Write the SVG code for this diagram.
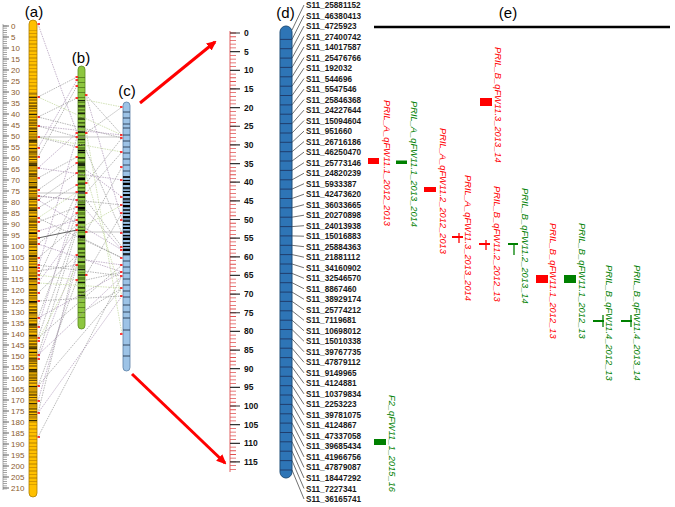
<svg xmlns="http://www.w3.org/2000/svg" width="675" height="507" viewBox="0 0 675 507">
<style>
.pl{font-family:"Liberation Sans",Arial,sans-serif;font-size:15px;fill:#000}
.ra{font-family:"Liberation Sans",Arial,sans-serif;font-size:8px;fill:#8B5A2B}
.rb{font-family:"Liberation Sans",Arial,sans-serif;font-size:8.5px;font-weight:bold;fill:#111}
.mk{font-family:"Liberation Sans",Arial,sans-serif;font-size:8.2px;font-weight:bold;fill:#1a1a1a}
.q{font-family:"Liberation Sans",Arial,sans-serif;font-size:9.3px;font-style:italic}
.qr{fill:#FF0000}.qg{fill:#008000}
.lr{stroke:#FF0000;stroke-width:1.3}.lg{stroke:#008000;stroke-width:1.3}
.dot{fill:none;stroke-width:0.65;stroke-dasharray:1.5 1}
</style>
<defs>
<marker id="ah" markerWidth="10" markerHeight="9" refX="8" refY="4.5" orient="auto" markerUnits="userSpaceOnUse"><path d="M0,0L10,4.5L0,9z" fill="#FF0000"/></marker>
<pattern id="pA1" width="8" height="7" x="29" y="0" patternUnits="userSpaceOnUse"><line x1="0" y1="2" x2="8" y2="2" stroke="#8a5a00" stroke-width="0.6"/><line x1="0" y1="5.5" x2="8" y2="5.5" stroke="#a87000" stroke-width="0.5"/></pattern>
<pattern id="pA2" width="8" height="17" x="29" y="0" patternUnits="userSpaceOnUse"><line x1="0" y1="1" x2="8" y2="1" stroke="#000" stroke-width="1" opacity="0.8"/><line x1="0" y1="4" x2="8" y2="4" stroke="#4a3000" stroke-width="1.4"/><line x1="0" y1="6.5" x2="8" y2="6.5" stroke="#000" stroke-width="0.6"/><line x1="0" y1="9" x2="8" y2="9" stroke="#6a4a10" stroke-width="1"/><line x1="0" y1="12.5" x2="8" y2="12.5" stroke="#000" stroke-width="1.2" opacity="0.9"/><line x1="0" y1="15" x2="8" y2="15" stroke="#3a2a00" stroke-width="0.6"/></pattern>
<pattern id="pA3" width="8" height="23" x="29" y="0" patternUnits="userSpaceOnUse"><line x1="0" y1="3" x2="8" y2="3" stroke="#000" stroke-width="2"/><line x1="0" y1="14" x2="8" y2="14" stroke="#2a1a00" stroke-width="1.5"/></pattern>
<pattern id="pB1" width="7" height="5" x="78" y="0" patternUnits="userSpaceOnUse"><line x1="0" y1="2.5" x2="7" y2="2.5" stroke="#3a5a10" stroke-width="0.6"/></pattern>
<pattern id="pB2" width="7" height="13" x="78" y="0" patternUnits="userSpaceOnUse"><line x1="0" y1="2" x2="7" y2="2" stroke="#000" stroke-width="1.2"/><line x1="0" y1="6" x2="7" y2="6" stroke="#1a2a00" stroke-width="0.8"/><line x1="0" y1="9.5" x2="7" y2="9.5" stroke="#000" stroke-width="1.5" opacity="0.8"/></pattern>
<pattern id="pB3" width="7" height="29" x="78" y="0" patternUnits="userSpaceOnUse"><line x1="0" y1="5" x2="7" y2="5" stroke="#000" stroke-width="2.5"/><line x1="0" y1="19" x2="7" y2="19" stroke="#000" stroke-width="1.5"/></pattern>
<pattern id="pC1" width="7" height="6" x="123" y="0" patternUnits="userSpaceOnUse"><line x1="0" y1="3" x2="7" y2="3" stroke="#1a2a40" stroke-width="0.8"/></pattern>
<pattern id="pC2" width="7" height="11" x="123" y="0" patternUnits="userSpaceOnUse"><line x1="0" y1="1" x2="7" y2="1" stroke="#000" stroke-width="1.5"/><line x1="0" y1="4.5" x2="7" y2="4.5" stroke="#000" stroke-width="1.2"/><line x1="0" y1="8" x2="7" y2="8" stroke="#000" stroke-width="2"/></pattern>
</defs>
<rect width="675" height="507" fill="#fff"/>

<g id="ruler-a">
<line x1="3" y1="24" x2="3" y2="490" stroke="#999" stroke-width="0.8"/>
<line x1="5" y1="25.65" x2="5" y2="490" stroke="#888" stroke-width="4" stroke-dasharray="0.7 1.5"/>
<line x1="6" y1="25.5" x2="6" y2="490" stroke="#666" stroke-width="6" stroke-dasharray="1 10"/>
<text class="ra" x="11" y="29">0</text><text class="ra" x="11" y="40">5</text><text class="ra" x="11" y="51">10</text><text class="ra" x="11" y="62">15</text><text class="ra" x="11" y="73">20</text><text class="ra" x="11" y="84">25</text><text class="ra" x="11" y="95">30</text><text class="ra" x="11" y="106">35</text><text class="ra" x="11" y="117">40</text><text class="ra" x="11" y="128">45</text><text class="ra" x="11" y="139">50</text><text class="ra" x="11" y="150">55</text><text class="ra" x="11" y="161">60</text><text class="ra" x="11" y="172">65</text><text class="ra" x="11" y="183">70</text><text class="ra" x="11" y="194">75</text><text class="ra" x="11" y="205">80</text><text class="ra" x="11" y="216">85</text><text class="ra" x="11" y="227">90</text><text class="ra" x="11" y="238">95</text><text class="ra" x="11" y="249">100</text><text class="ra" x="11" y="260">105</text><text class="ra" x="11" y="271">110</text><text class="ra" x="11" y="282">115</text><text class="ra" x="11" y="293">120</text><text class="ra" x="11" y="304">125</text><text class="ra" x="11" y="315">130</text><text class="ra" x="11" y="326">135</text><text class="ra" x="11" y="337">140</text><text class="ra" x="11" y="348">145</text><text class="ra" x="11" y="359">150</text><text class="ra" x="11" y="370">155</text><text class="ra" x="11" y="381">160</text><text class="ra" x="11" y="392">165</text><text class="ra" x="11" y="403">170</text><text class="ra" x="11" y="414">175</text><text class="ra" x="11" y="425">180</text><text class="ra" x="11" y="436">185</text><text class="ra" x="11" y="447">190</text><text class="ra" x="11" y="458">195</text><text class="ra" x="11" y="469">200</text><text class="ra" x="11" y="480">205</text><text class="ra" x="11" y="491">210</text>
</g>

<g id="chrom-a">
<rect x="29" y="20" width="8" height="477" rx="4" fill="#FFC000" stroke="#b08000" stroke-width="0.8"/>
<rect x="29" y="30" width="8" height="455" fill="url(#pA1)"/>
<rect x="29" y="92" width="8" height="330" fill="url(#pA2)" opacity="0.85"/>
<rect x="29" y="120" width="8" height="260" fill="url(#pA3)" opacity="0.6"/>
<text class="pl" x="34" y="17" text-anchor="middle">(a)</text>
</g>

<g id="chrom-b">
<rect x="78" y="66" width="7" height="263" rx="3.5" fill="#8DC63F" stroke="#5a8a20" stroke-width="0.8"/>
<rect x="78" y="74" width="7" height="248" fill="url(#pB1)"/>
<rect x="78" y="100" width="7" height="200" fill="url(#pB2)"/>
<rect x="78" y="150" width="7" height="100" fill="url(#pB3)"/>
<text class="pl" x="81" y="63" text-anchor="middle">(b)</text>
</g>

<g id="chrom-c">
<rect x="123" y="102" width="7" height="269" rx="3.5" fill="#9DC3E6" stroke="#5a7fa5" stroke-width="0.8"/>
<path d="M123 112h7M123 118h7M123 124h7M123 128h7M123 305h7M123 312h7M123 318h7M123 330h7M123 345h7M123 356h7" stroke="#1a2a40" stroke-width="0.8"/>
<rect x="123" y="132" width="7" height="170" fill="url(#pC1)"/>
<rect x="123" y="176" width="7" height="80" fill="url(#pC2)"/>
<text class="pl" x="127" y="96" text-anchor="middle">(c)</text>
</g>

<g id="connectors">
<g id="conn-abc">
<path class="dot" stroke="#909090" d="M38 97L77 77M38 117L77 98M38 126L77 137M38 137L77 147M38 157L77 86M38 178L77 157M38 190L77 163M38 200L77 173M38 208L77 185M38 222L77 207M38 244L77 213M38 258L77 225M38 271L77 265M38 279L77 192M38 293L77 255M38 318L77 213M38 338L77 225M38 355L77 230M38 386L77 280M38 413L77 255M86 95L122 135M86 133L122 107M86 183L122 138M86 193L122 152M86 232L122 167M86 275L122 213M86 150L122 233M86 200L122 247M86 240L122 258M86 280L122 272M86 310L122 288M38 117L122 138M38 196L122 205M38 218L122 258M38 265L122 276M38 301L122 296M38 338L122 265M38 386L122 288M38 437L122 276"/>
<path class="dot" stroke="#a58cb0" d="M38 24L77 133M38 148L77 80M38 168L77 133M38 196L77 200M38 231L77 220M38 268L77 137M38 283L77 230M38 327L77 200M38 359L77 255M38 401L77 265M86 95L122 220M86 170L122 197M86 210L122 250M86 260L122 265M38 126L122 135M38 168L122 180M38 244L122 272M38 318L122 272M38 355L122 276M38 413L122 296M38 200L122 250"/>
<path class="dot" stroke="#b9d28f" d="M38 137L122 152M38 218L77 192M38 275L77 280M86 225L122 205M86 130L122 334M38 97L122 135M38 341L77 265M86 175L122 296M38 283L122 288M86 100L122 107"/>
<path fill="none" stroke="#b0b0b0" stroke-width="0.7" d="M38 137L122 137M86 232L122 232M38 193L86 193"/>
<path fill="none" stroke="#505050" stroke-width="0.9" d="M38 238L77 230"/>
<path stroke="#FF0000" stroke-width="1.6" d="M37.5 24h2.5M37.5 97h2.5M37.5 117h2.5M37.5 126h2.5M37.5 137h2.5M37.5 148h2.5M37.5 157h2.5M37.5 168h2.5M37.5 178h2.5M37.5 190h2.5M37.5 196h2.5M37.5 200h2.5M37.5 208h2.5M37.5 218h2.5M37.5 222h2.5M37.5 231h2.5M37.5 238h2.5M37.5 244h2.5M37.5 258h2.5M37.5 265h2.5M37.5 268h2.5M37.5 271h2.5M37.5 275h2.5M37.5 279h2.5M37.5 283h2.5M37.5 293h2.5M37.5 301h2.5M37.5 318h2.5M37.5 327h2.5M37.5 338h2.5M37.5 341h2.5M37.5 355h2.5M37.5 359h2.5M37.5 386h2.5M37.5 401h2.5M37.5 413h2.5M37.5 437h2.5M75.5 77h2.5M75.5 80h2.5M75.5 86h2.5M75.5 98h2.5M75.5 133h2.5M75.5 137h2.5M75.5 147h2.5M75.5 157h2.5M75.5 163h2.5M75.5 173h2.5M75.5 185h2.5M75.5 192h2.5M75.5 200h2.5M75.5 207h2.5M75.5 213h2.5M75.5 220h2.5M75.5 225h2.5M75.5 230h2.5M75.5 255h2.5M75.5 265h2.5M75.5 280h2.5M85 95h2.5M85 133h2.5M85 183h2.5M85 193h2.5M85 232h2.5M85 275h2.5M120 107h2.5M120 135h2.5M120 138h2.5M120 152h2.5M120 167h2.5M120 180h2.5M120 197h2.5M120 205h2.5M120 213h2.5M120 220h2.5M120 233h2.5M120 247h2.5M120 250h2.5M120 258h2.5M120 265h2.5M120 272h2.5M120 276h2.5M120 288h2.5M120 296h2.5M120 334h2.5"/>
</g>
<g id="zoom-arrows">
<line x1="140" y1="103" x2="215" y2="42" stroke="#FF0000" stroke-width="3" marker-end="url(#ah)"/>
<line x1="132" y1="374" x2="225" y2="463" stroke="#FF0000" stroke-width="3" marker-end="url(#ah)"/>
</g>
<g id="conn-d">
<path fill="none" stroke="#333" stroke-width="0.7" d="M304 5L292 30M304 15.5L292 39.4M304 26L292 48.7M304 36.5L292 58.1M304 47L292 67.4M304 57.6L292 76.8M304 68.1L292 86.2M304 78.6L292 95.5M304 89.1L292 104.9M304 99.6L292 114.2M304 110.1L292 123.6M304 120.6L292 133M304 131.1L292 142.3M304 141.6L292 151.7M304 152.1L292 161M304 162.7L292 170.4M304 173.2L292 179.8M304 183.7L292 189.1M304 194.2L292 198.5M304 204.7L292 207.8M304 215.2L292 217.2M304 225.7L292 226.6M304 236.2L292 235.9M304 246.7L292 245.3M304 257.2L292 254.6M304 267.8L292 264M304 278.3L292 273.4M304 288.8L292 282.7M304 299.3L292 292.1M304 309.8L292 301.4M304 320.3L292 310.8M304 330.8L292 320.2M304 341.3L292 329.5M304 351.8L292 338.9M304 362.3L292 348.2M304 372.9L292 357.6M304 383.4L292 367M304 393.9L292 376.3M304 404.4L292 385.7M304 414.9L292 395M304 425.4L292 404.4M304 435.9L292 413.8M304 446.4L292 423.1M304 456.9L292 432.5M304 467.4L292 441.8M304 478L292 451.2M304 488.5L292 460.6M304 499L292 470"/>
</g>
</g>

<g id="ruler-scale">
<line x1="230" y1="31" x2="230" y2="472" stroke="#e06060" stroke-width="1"/>
<line x1="233" y1="32.6" x2="233" y2="472" stroke="#e05050" stroke-width="6" stroke-dasharray="0.8 2.93"/>
<line x1="235" y1="32.4" x2="235" y2="466" stroke="#333" stroke-width="10" stroke-dasharray="1.2 17.45"/>
<text class="rb" x="244" y="36">0</text><text class="rb" x="244" y="54.65">5</text><text class="rb" x="244" y="73.3">10</text><text class="rb" x="244" y="91.95">15</text><text class="rb" x="244" y="110.6">20</text><text class="rb" x="244" y="129.25">25</text><text class="rb" x="244" y="147.9">30</text><text class="rb" x="244" y="166.55">35</text><text class="rb" x="244" y="185.2">40</text><text class="rb" x="244" y="203.85">45</text><text class="rb" x="244" y="222.5">50</text><text class="rb" x="244" y="241.15">55</text><text class="rb" x="244" y="259.8">60</text><text class="rb" x="244" y="278.45">65</text><text class="rb" x="244" y="297.1">70</text><text class="rb" x="244" y="315.75">75</text><text class="rb" x="244" y="334.4">80</text><text class="rb" x="244" y="353.05">85</text><text class="rb" x="244" y="371.7">90</text><text class="rb" x="244" y="390.35">95</text><text class="rb" x="244" y="409">100</text><text class="rb" x="244" y="427.65">105</text><text class="rb" x="244" y="446.3">110</text><text class="rb" x="244" y="464.95">115</text>
</g>

<g id="chrom-d">
<rect x="280" y="26" width="12" height="452" rx="6" fill="#2E75B6" stroke="#1F4E79" stroke-width="1"/>
<path stroke="#1F3864" stroke-width="0.9" d="M280 39.4h12M280 48.7h12M280 58.1h12M280 67.4h12M280 76.8h12M280 86.2h12M280 95.5h12M280 104.9h12M280 114.2h12M280 123.6h12M280 133h12M280 142.3h12M280 151.7h12M280 161h12M280 170.4h12M280 179.8h12M280 189.1h12M280 198.5h12M280 207.8h12M280 217.2h12M280 226.6h12M280 235.9h12M280 245.3h12M280 254.6h12M280 264h12M280 273.4h12M280 282.7h12M280 292.1h12M280 301.4h12M280 310.8h12M280 320.2h12M280 329.5h12M280 338.9h12M280 348.2h12M280 357.6h12M280 367h12M280 376.3h12M280 385.7h12M280 395h12M280 404.4h12M280 413.8h12M280 423.1h12M280 432.5h12M280 441.8h12M280 451.2h12M280 460.6h12M280 470h12"/>
<text class="pl" x="285.5" y="18" text-anchor="middle">(d)</text>
</g>

<g id="markers-d">
<text class="mk" x="306" y="8">S11_25881152</text>
<text class="mk" x="306" y="18.5">S11_46380413</text>
<text class="mk" x="306" y="29">S11_4725923</text>
<text class="mk" x="306" y="39.5">S11_27400742</text>
<text class="mk" x="306" y="50">S11_14017587</text>
<text class="mk" x="306" y="60.6">S11_25476766</text>
<text class="mk" x="306" y="71.1">S11_192032</text>
<text class="mk" x="306" y="81.6">S11_544696</text>
<text class="mk" x="306" y="92.1">S11_5547546</text>
<text class="mk" x="306" y="102.6">S11_25846368</text>
<text class="mk" x="306" y="113.1">S11_24227644</text>
<text class="mk" x="306" y="123.6">S11_15094604</text>
<text class="mk" x="306" y="134.1">S11_951660</text>
<text class="mk" x="306" y="144.6">S11_26716186</text>
<text class="mk" x="306" y="155.1">S11_46250470</text>
<text class="mk" x="306" y="165.7">S11_25773146</text>
<text class="mk" x="306" y="176.2">S11_24820239</text>
<text class="mk" x="306" y="186.7">S11_5933387</text>
<text class="mk" x="306" y="197.2">S11_42473620</text>
<text class="mk" x="306" y="207.7">S11_36033665</text>
<text class="mk" x="306" y="218.2">S11_20270898</text>
<text class="mk" x="306" y="228.7">S11_24013938</text>
<text class="mk" x="306" y="239.2">S11_15016883</text>
<text class="mk" x="306" y="249.7">S11_25884363</text>
<text class="mk" x="306" y="260.2">S11_21881112</text>
<text class="mk" x="306" y="270.8">S11_34160902</text>
<text class="mk" x="306" y="281.3">S11_32546570</text>
<text class="mk" x="306" y="291.8">S11_8867460</text>
<text class="mk" x="306" y="302.3">S11_38929174</text>
<text class="mk" x="306" y="312.8">S11_25774212</text>
<text class="mk" x="306" y="323.3">S11_7119681</text>
<text class="mk" x="306" y="333.8">S11_10698012</text>
<text class="mk" x="306" y="344.3">S11_15010338</text>
<text class="mk" x="306" y="354.8">S11_39767735</text>
<text class="mk" x="306" y="365.3">S11_47879112</text>
<text class="mk" x="306" y="375.9">S11_9149965</text>
<text class="mk" x="306" y="386.4">S11_4124881</text>
<text class="mk" x="306" y="396.9">S11_10379834</text>
<text class="mk" x="306" y="407.4">S11_2253223</text>
<text class="mk" x="306" y="417.9">S11_39781075</text>
<text class="mk" x="306" y="428.4">S11_4124867</text>
<text class="mk" x="306" y="438.9">S11_47337058</text>
<text class="mk" x="306" y="449.4">S11_39685434</text>
<text class="mk" x="306" y="459.9">S11_41966756</text>
<text class="mk" x="306" y="470.4">S11_47879087</text>
<text class="mk" x="306" y="481">S11_18447292</text>
<text class="mk" x="306" y="491.5">S11_7227341</text>
<text class="mk" x="306" y="502">S11_36165741</text>
</g>

<g id="panel-e">
<text class="pl" x="508" y="18" text-anchor="middle">(e)</text>
<line x1="374" y1="27" x2="670" y2="27" stroke="#000" stroke-width="2.5"/>
</g>

<g id="qtl-A-11-1-2012">
<rect class="qr" x="368" y="158" width="11" height="6"/>
<text class="q qr" transform="translate(383.5,100) rotate(90)">PRIL_A_qFW11.1_2012_2013</text>
</g>
<g id="qtl-A-11-1-2013">
<rect class="qg" x="396" y="160.5" width="11" height="3.5"/>
<text class="q qg" transform="translate(410.5,101) rotate(90)">PRIL_A_qFW11.1_2013_2014</text>
</g>
<g id="qtl-A-11-2-2012">
<rect class="qr" x="424" y="187" width="12" height="5"/>
<text class="q qr" transform="translate(439.5,128) rotate(90)">PRIL_A_qFW11.2_2012_2013</text>
</g>
<g id="qtl-A-11-3-2013">
<rect class="qr" x="452" y="236" width="11" height="2"/>
<line class="lr" x1="459" y1="233" x2="459" y2="243"/>
<text class="q qr" transform="translate(464.5,175) rotate(90)">PRIL_A_qFW11.3_2013_2014</text>
</g>
<g id="qtl-B-11-3-2013">
<rect class="qr" x="480" y="98" width="12" height="8"/>
<text class="q qr" transform="translate(494.5,47) rotate(90)">PRIL_B_qFW11.3_2013_14</text>
</g>
<g id="qtl-B-11-2-2012">
<rect class="qr" x="479" y="243" width="11" height="2"/>
<line class="lr" x1="486" y1="240" x2="486" y2="250"/>
<text class="q qr" transform="translate(493.5,186) rotate(90)">PRIL_B_qFW11.2_2012_13</text>
</g>
<g id="qtl-B-11-2-2013">
<rect class="qg" x="508" y="243" width="10" height="2"/>
<line class="lg" x1="514" y1="243" x2="514" y2="255"/>
<text class="q qg" transform="translate(521.5,188) rotate(90)">PRIL_B_qFW11.2_2013_14</text>
</g>
<g id="qtl-B-11-1-2012-red">
<rect class="qr" x="536" y="275" width="12" height="8"/>
<text class="q qr" transform="translate(549.5,223) rotate(90)">PRIL_B_qFW11.1_2012_13</text>
</g>
<g id="qtl-B-11-1-2012-green">
<rect class="qg" x="564" y="275" width="12" height="8"/>
<text class="q qg" transform="translate(578.5,223) rotate(90)">PRIL_B_qFW11.1_2012_13</text>
</g>
<g id="qtl-B-11-4-2012">
<rect class="qg" x="593" y="320" width="11" height="2"/>
<line class="lg" x1="603" y1="315" x2="603" y2="327"/>
<text class="q qg" transform="translate(605.5,265) rotate(90)">PRIL_B_qFW11.4_2012_13</text>
</g>
<g id="qtl-B-11-4-2013">
<rect class="qg" x="621" y="320" width="11" height="2"/>
<line class="lg" x1="631" y1="315" x2="631" y2="327"/>
<text class="q qg" transform="translate(633.5,265) rotate(90)">PRIL_B_qFW11.4_2013_14</text>
</g>
<g id="qtl-F2">
<rect class="qg" x="374" y="439" width="12" height="6"/>
<text class="q qg" transform="translate(388.5,395) rotate(90)">F2_qFW11_1_2015_16</text>
</g>
</svg>
